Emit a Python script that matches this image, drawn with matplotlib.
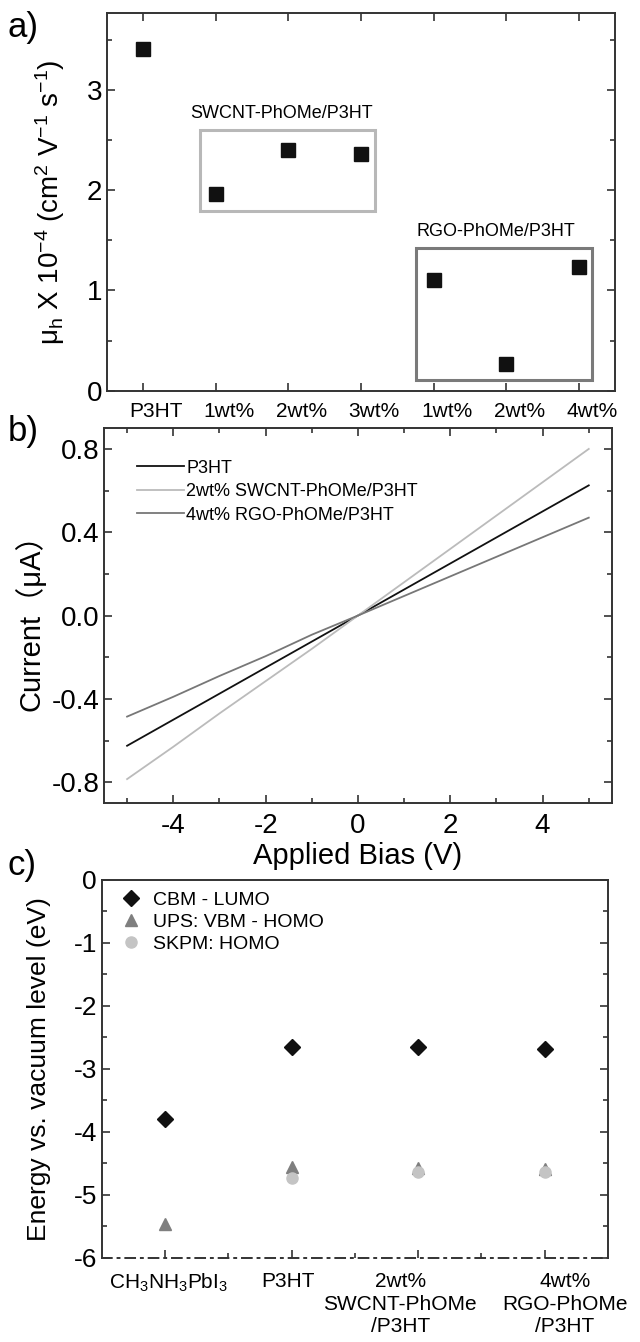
import matplotlib
matplotlib.use('Agg')
import matplotlib.pyplot as plt
import matplotlib.transforms as mtransforms
from matplotlib.patches import Rectangle
from matplotlib.ticker import MultipleLocator, FixedLocator, FormatStrFormatter

plt.rcParams['font.family'] = ['Liberation Sans', 'Noto Sans CJK SC', 'DejaVu Sans']
plt.rcParams['mathtext.fontset'] = 'custom'
plt.rcParams['mathtext.rm'] = 'Liberation Sans'
plt.rcParams['mathtext.it'] = 'Liberation Sans:italic'
plt.rcParams['axes.unicode_minus'] = False
plt.rcParams['axes.linewidth'] = 1.4
plt.rcParams['axes.edgecolor'] = '#333333'

# panel a: hole mobility
mob_labels = ['P3HT', '1wt%', '2wt%', '3wt%', '1wt%', '2wt%', '4wt%']
mob_values = [3.41, 1.96, 2.40, 2.36, 1.10, 0.27, 1.23]

# panel b: I-V curves
bias = [-5, -4, -3, -2, -1, 0, 1, 2, 3, 4, 5]
cur_p3ht = [-0.625, -0.50, -0.375, -0.25, -0.125, 0.0, 0.125, 0.25, 0.375, 0.50, 0.625]
cur_swcnt = [-0.785, -0.63, -0.47, -0.315, -0.16, 0.0, 0.16, 0.32, 0.48, 0.64, 0.80]
cur_rgo = [-0.485, -0.39, -0.29, -0.195, -0.092, 0.0, 0.094, 0.188, 0.282, 0.376, 0.47]
iv_names = ['P3HT', '2wt% SWCNT-PhOMe/P3HT', '4wt% RGO-PhOMe/P3HT']

# panel c: energy levels
mat_labels = ['CH$_3$NH$_3$PbI$_3$', 'P3HT', '2wt%\nSWCNT-PhOMe\n/P3HT', '4wt%\nRGO-PhOMe\n/P3HT']
cbm_lumo = [-3.79, -2.65, -2.65, -2.68]
ups_homo = [-5.46, -4.55, -4.57, -4.59]
skpm_idx = [1, 2, 3]
skpm_homo = [-4.73, -4.64, -4.64]

fig = plt.figure(figsize=(6.4, 13.42), dpi=100)


def style_ticks(ax, top=True):
    ax.tick_params(which='both', direction='in', right=True, top=top,
                   color='#333333', width=1.2)
    ax.tick_params(which='major', length=6)
    ax.tick_params(which='minor', length=3.5)


def shift_labels(ax, offsets):
    # nudge x tick labels sideways (in inches)
    for lab, dx in zip(ax.get_xticklabels(), offsets):
        lab.set_transform(lab.get_transform() +
                          mtransforms.ScaledTranslation(dx, 0, fig.dpi_scale_trans))


# ---- a) ----
ax1 = fig.add_axes([0.167, 0.709, 0.794, 0.281])
x1 = list(range(len(mob_values)))
ax1.plot(x1, mob_values, 's', color='#111111', ms=10, ls='none')
ax1.set_xlim(-0.5, 6.5)
ax1.set_ylim(0, 3.77)
ax1.set_xticks(x1)
ax1.set_xticklabels(mob_labels, fontsize=15)
ax1.yaxis.set_major_locator(MultipleLocator(1))
ax1.yaxis.set_minor_locator(MultipleLocator(0.5))
ax1.tick_params(axis='y', labelsize=20)
style_ticks(ax1)
ax1.tick_params(axis='x', pad=8)
shift_labels(ax1, [0.13] * len(mob_labels))
ax1.set_ylabel('μ$_\\mathrm{h}$ X 10$^{-4}$ (cm$^2$ V$^{-1}$ s$^{-1}$)', fontsize=20)
ax1.yaxis.set_label_coords(-0.079, 0.5)
ax1.add_patch(Rectangle((0.78, 1.79), 2.41, 0.81, fill=False, ec='#b8b8b8', lw=2.2))
ax1.add_patch(Rectangle((3.76, 0.11), 2.42, 1.31, fill=False, ec='#7a7a7a', lw=2.2))
ax1.text(1.9, 2.77, 'SWCNT-PhOMe/P3HT', ha='center', va='center', fontsize=13)
ax1.text(4.86, 1.59, 'RGO-PhOMe/P3HT', ha='center', va='center', fontsize=13)
fig.text(0.012, 0.992, 'a)', fontsize=25, va='top')

# ---- b) ----
ax2 = fig.add_axes([0.1625, 0.4016, 0.7935, 0.2794])
ax2.plot(bias, cur_p3ht, color='#111111', lw=1.3, label=iv_names[0])
ax2.plot(bias, cur_swcnt, color='#bbbbbb', lw=1.3, label=iv_names[1])
ax2.plot(bias, cur_rgo, color='#777777', lw=1.3, label=iv_names[2])
ax2.set_xlim(-5.5, 5.5)
ax2.set_ylim(-0.9, 0.9)
ax2.xaxis.set_major_locator(MultipleLocator(2))
ax2.xaxis.set_minor_locator(MultipleLocator(1))
ax2.yaxis.set_major_locator(MultipleLocator(0.4))
ax2.yaxis.set_minor_locator(MultipleLocator(0.2))
ax2.yaxis.set_major_formatter(FormatStrFormatter('%.1f'))
ax2.tick_params(labelsize=20)
style_ticks(ax2)
ax2.tick_params(axis='x', pad=7)
ax2.set_xlabel('Applied Bias (V)', fontsize=21, labelpad=2)
ax2.set_ylabel('Current（μA）', fontsize=21)
ax2.yaxis.set_label_coords(-0.115, 0.5)
ax2.legend(loc='upper left', bbox_to_anchor=(0.05, 0.935), frameon=False,
           fontsize=13, handlelength=2.6, handletextpad=0.15, labelspacing=0.36,
           borderaxespad=0)
fig.text(0.012, 0.691, 'b)', fontsize=25, va='top')

# ---- c) ----
ax3 = fig.add_axes([0.159, 0.0626, 0.791, 0.2817])
ax3.plot(range(4), cbm_lumo, 'D', color='#111111', ms=8, ls='none', label='CBM - LUMO')
ax3.plot(range(4), ups_homo, '^', color='#7f7f7f', ms=9, ls='none', label='UPS: VBM - HOMO')
ax3.plot(skpm_idx, skpm_homo, 'o', color='#c4c4c4', ms=8, ls='none', label='SKPM: HOMO')
ax3.set_xlim(-0.5, 3.5)
ax3.set_ylim(-6, 0)
ax3.set_xticks(range(4))
ax3.set_xticklabels(mat_labels, fontsize=15, linespacing=1.25)
ax3.xaxis.set_minor_locator(FixedLocator([0.5, 1.5, 2.5]))
ax3.yaxis.set_major_locator(MultipleLocator(1))
ax3.yaxis.set_minor_locator(MultipleLocator(0.5))
ax3.tick_params(axis='y', labelsize=19)
style_ticks(ax3, top=False)
ax3.tick_params(axis='x', pad=10)
ax3.spines['bottom'].set_linestyle((0, (5, 3, 1, 3)))
shift_labels(ax3, [0.03, -0.04, -0.18, 0.2])
ax3.set_ylabel('Energy vs. vacuum level (eV)', fontsize=19)
ax3.yaxis.set_label_coords(-0.1, 0.5)
ax3.legend(loc='upper left', bbox_to_anchor=(0.02, 0.99), frameon=False,
           fontsize=14, handletextpad=0.5, labelspacing=0.22, borderaxespad=0,
           handlelength=1.2)
fig.text(0.012, 0.367, 'c)', fontsize=25, va='top')

fig.savefig('out.png', dpi=100)
